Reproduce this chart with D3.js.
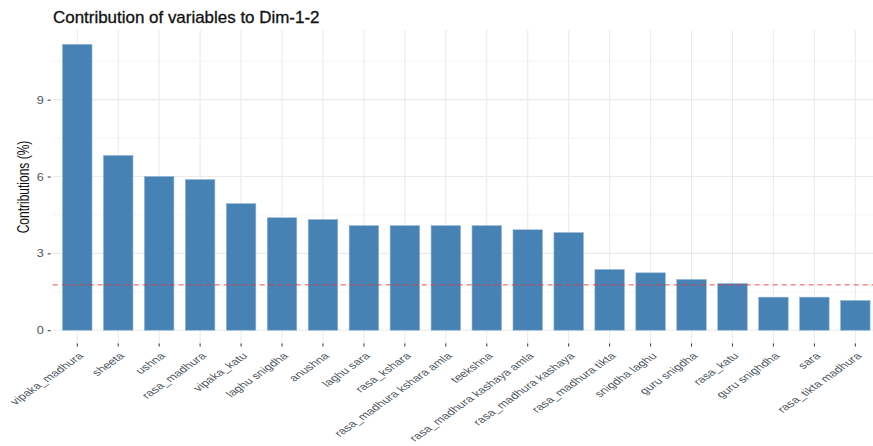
<!DOCTYPE html>
<html>
<head>
<meta charset="utf-8">
<script src="https://cdn.jsdelivr.net/npm/d3@7"></script>
<style>
  html, body { margin: 0; padding: 0; background: #fff; }
  svg { display: block; }
  text { font-family: "Liberation Sans", Arial, sans-serif; }
</style>
</head>
<body>
<svg id="chart" width="873" height="446"></svg>
<script>
// Variables, ordered by contribution
const categories = [
  "vipaka_madhura", "sheeta", "ushna", "rasa_madhura", "vipaka_katu",
  "laghu snigdha", "anushna", "laghu sara", "rasa_kshara",
  "rasa_madhura kshara amla", "teekshna", "rasa_madhura kashaya amla",
  "rasa_madhura kashaya", "rasa_madhura tikta", "snigdha laghu",
  "guru snigdha", "rasa_katu", "guru snighdha", "sara", "rasa_tikta madhura"
];
// Contribution (%) of each variable to Dim-1-2
const contributions = [
  11.16, 6.82, 6.00, 5.88, 4.94,
  4.39, 4.32, 4.08, 4.08,
  4.08, 4.08, 3.92,
  3.81, 2.37, 2.24,
  1.98, 1.82, 1.29, 1.29, 1.16
];
// Expected average contribution (reference line)
const expectedContribution = 1.77;
const yTicks = [0, 3, 6, 9];
const yMinorTicks = [1.5, 4.5, 7.5, 10.5];

const svg = d3.select("#chart");
const W = 873;
const panel = { left: 52.7, top: 30, bottom: 344.5, right: 879.9 };
const stretch = 1.4; // horizontal text stretch

const x = d3.scaleBand()
  .domain(categories)
  .range([panel.left, panel.right])
  .paddingInner(0.28)
  .paddingOuter(0.24);

const y = d3.scaleLinear()
  .domain([-0.558, 11.72])
  .range([panel.bottom, panel.top]);

// Grid
const grid = svg.append("g");
grid.selectAll("line.minor")
  .data(yMinorTicks).enter().append("line")
  .attr("x1", panel.left).attr("x2", W)
  .attr("y1", d => y(d)).attr("y2", d => y(d))
  .attr("stroke", "#f2f2f2").attr("stroke-width", 0.8);
grid.selectAll("line.majorY")
  .data(yTicks).enter().append("line")
  .attr("x1", panel.left).attr("x2", W)
  .attr("y1", d => y(d)).attr("y2", d => y(d))
  .attr("stroke", "#ebebeb").attr("stroke-width", 1.1);
grid.selectAll("line.majorX")
  .data(categories).enter().append("line")
  .attr("x1", d => x(d) + x.bandwidth() / 2).attr("x2", d => x(d) + x.bandwidth() / 2)
  .attr("y1", panel.top).attr("y2", panel.bottom)
  .attr("stroke", "#ebebeb").attr("stroke-width", 1.1);

// Bars
svg.append("g").selectAll("rect")
  .data(categories.map((c, i) => ({ c, v: contributions[i] })))
  .enter().append("rect")
  .attr("x", d => x(d.c))
  .attr("width", x.bandwidth())
  .attr("y", d => y(d.v))
  .attr("height", d => y(0) - y(d.v))
  .attr("fill", "#4682B4")
  .attr("stroke", "#8fb3d3")
  .attr("stroke-width", 0.6);

// Reference line
svg.append("line")
  .attr("x1", panel.left).attr("x2", W)
  .attr("y1", y(expectedContribution)).attr("y2", y(expectedContribution))
  .attr("stroke", "#e8383d")
  .attr("stroke-width", 0.9)
  .attr("stroke-dasharray", "5,4");

// Y axis
const yAxis = svg.append("g")
  .attr("transform", `translate(${panel.left - 2},0)`)
  .call(d3.axisLeft(y).tickValues(yTicks).tickSize(3).tickPadding(4));
yAxis.select(".domain").remove();
yAxis.selectAll(".tick line").attr("stroke", "#333");
yAxis.selectAll(".tick text")
  .attr("fill", "#4d5560")
  .style("font-size", "11px")
  .attr("transform", `scale(1.15,1)`)
  .attr("x", -7 / 1.15);

// X axis
const xAxis = svg.append("g")
  .attr("transform", `translate(0,${panel.bottom - 1})`)
  .call(d3.axisBottom(x).tickSize(3).tickPadding(0));
xAxis.select(".domain").remove();
xAxis.selectAll(".tick line").attr("stroke", "#333");
xAxis.selectAll(".tick text")
  .attr("fill", "#4d5560")
  .style("font-size", "9.4px")
  .attr("text-anchor", "end")
  .attr("dy", null)
  .attr("y", null)
  .attr("transform", `translate(7,13) scale(${stretch},1) rotate(-45)`);

// Title
svg.append("text")
  .attr("transform", `translate(53,23) scale(1.06,1)`)
  .style("font-size", "16px")
  .attr("fill", "#111")
  .attr("stroke", "#111")
  .attr("stroke-width", 0.3)
  .text("Contribution of variables to Dim-1-2");

// Y axis title
svg.append("text")
  .attr("transform", `translate(29,187) scale(1.3,1) rotate(-90)`)
  .attr("text-anchor", "middle")
  .style("font-size", "12px")
  .attr("fill", "#111")
  .text("Contributions (%)");
</script>
</body>
</html>
